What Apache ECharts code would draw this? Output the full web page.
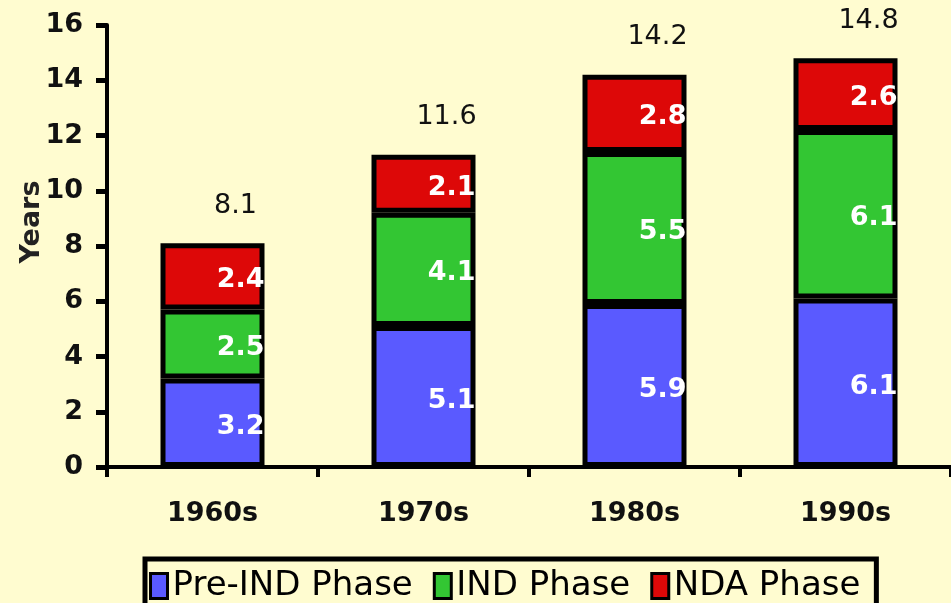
<!DOCTYPE html>
<html>
<head>
<meta charset="utf-8">
<script src="https://cdn.jsdelivr.net/npm/echarts@6/dist/echarts.min.js"></script>
<style>
  html, body { margin: 0; padding: 0; background: #FFFCD0; }
  #chart { width: 951px; height: 603px; }
</style>
</head>
<body>
<div id="chart"></div>
<script>
// decades on the x axis
let decades = ['1960s', '1970s', '1980s', '1990s'];
// years spent in each phase
let preInd = [3.2, 5.1, 5.9, 6.1];
let ind = [2.5, 4.1, 5.5, 6.1];
let nda = [2.4, 2.1, 2.8, 2.6];
// totals printed above the bars (as in the source)
let totals = ['8.1', '11.6', '14.2', '14.8'];
let yTicks = [0, 2, 4, 6, 8, 10, 12, 14, 16];

let font = 'DejaVu Sans';
let chart = echarts.init(document.getElementById('chart'));

function inLabel() {
    return {
        show: true,
        position: 'insideRight',
        distance: 0,
        offset: [0, 4],
        color: '#fff',
        fontFamily: font,
        fontWeight: 'bold',
        fontSize: 27,
        textShadowColor: 'rgba(0,0,0,0.8)',
        textShadowBlur: 0,
        textShadowOffsetX: -1,
        textShadowOffsetY: 1
    };
}

function phase(name, data, color) {
    return {
        name: name,
        type: 'bar',
        stack: 'total',
        barWidth: 104,
        data: data,
        itemStyle: {
            color: color,
            borderColor: '#000',
            borderWidth: 5
        },
        label: inLabel(),
        emphasis: { disabled: true }
    };
}

let option = {
    backgroundColor: '#FFFCD0',
    animation: false,
    grid: {
        left: 107,
        top: 25,
        bottom: 136,
        width: 853
    },
    legend: {
        data: ['Pre-IND Phase', 'IND Phase', 'NDA Phase'],
        left: 145,
        top: 559,
        padding: [10, 16, 12, 4],
        itemGap: 20,
        itemWidth: 17,
        itemHeight: 25,
        icon: 'rect',
        borderColor: '#000',
        borderWidth: 5,
        itemStyle: { borderColor: '#000', borderWidth: 3 },
        textStyle: { fontFamily: font, fontSize: 34, color: '#000' }
    },
    xAxis: {
        type: 'category',
        data: decades,
        axisLine: { lineStyle: { color: '#000', width: 4 } },
        axisTick: { show: true, length: 10, lineStyle: { color: '#000', width: 4 } },
        axisLabel: {
            margin: 33,
            color: '#111',
            fontFamily: font,
            fontWeight: 'bold',
            fontSize: 27
        }
    },
    yAxis: {
        type: 'value',
        min: yTicks[0],
        max: yTicks[yTicks.length - 1],
        interval: 2,
        name: 'Years',
        nameLocation: 'middle',
        nameGap: 62,
        nameMoveOverlap: false,
        nameRotate: 90,
        nameTextStyle: {
            fontFamily: font,
            fontWeight: 'bold',
            fontSize: 27,
            color: '#222',
            padding: [0, 0, 0, 48]
        },
        splitLine: { show: false },
        axisLine: { show: true, lineStyle: { color: '#000', width: 4 } },
        axisTick: { show: true, length: 11, lineStyle: { color: '#000', width: 5 } },
        axisLabel: {
            margin: 24,
            color: '#111',
            fontFamily: font,
            fontWeight: 'bold',
            fontSize: 27
        }
    },
    series: [
        phase('Pre-IND Phase', preInd, '#5A5AFF'),
        phase('IND Phase', ind, '#33C633'),
        phase('NDA Phase', nda, '#DD0808'),
        {
            name: 'Total',
            type: 'bar',
            stack: 'total',
            barWidth: 104,
            data: decades.map(() => 0),
            itemStyle: { color: 'transparent' },
            label: {
                show: true,
                position: 'top',
                distance: 24,
                offset: [23, 0],
                formatter: p => totals[p.dataIndex],
                color: '#111',
                fontFamily: font,
                fontSize: 27
            },
            emphasis: { disabled: true }
        }
    ]
};

chart.setOption(option);
</script>
</body>
</html>
